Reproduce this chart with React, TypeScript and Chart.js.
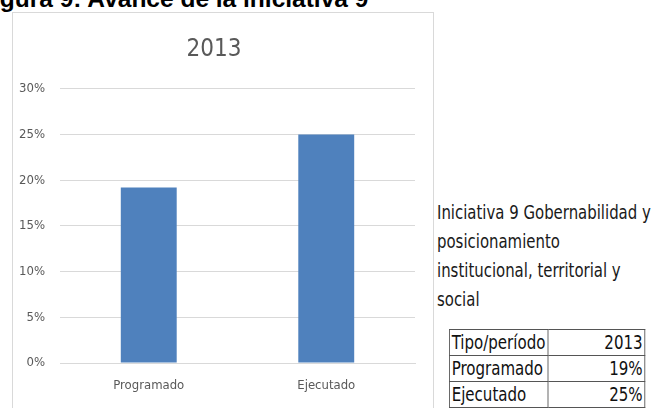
import React, { useEffect, useRef } from "react";
import { Chart, registerables } from "chart.js";

Chart.register(...registerables);

const categories = ["Programado", "Ejecutado"];
const values = [19.2, 25];
const yTicks = [0, 5, 10, 15, 20, 25, 30];
const chartTitle = "2013";
const tableRows = [
  ["Tipo/período", "2013"],
  ["Programado", "19%"],
  ["Ejecutado", "25%"],
];

const NARROW = "'DejaVu Sans Condensed', 'Liberation Sans', sans-serif";

export default function App() {
  const canvasRef = useRef<HTMLCanvasElement | null>(null);

  useEffect(() => {
    const canvas = canvasRef.current;
    if (!canvas) return;
    const chart = new Chart(canvas, {
      type: "bar",
      data: {
        labels: categories,
        datasets: [
          {
            data: values,
            backgroundColor: "#4f81bd",
            borderWidth: 0,
            barPercentage: 0.63,
            categoryPercentage: 0.5,
          },
        ],
      },
      options: {
        animation: false,
        responsive: false,
        maintainAspectRatio: false,
        layout: { padding: { left: 0, right: 17, top: 0, bottom: 0 } },
        plugins: {
          legend: { display: false },
          tooltip: { enabled: false },
          title: {
            display: true,
            text: chartTitle,
            color: "#595959",
            font: { family: NARROW, size: 24, weight: "normal" },
            padding: { top: 22, bottom: 25 },
          },
        },
        scales: {
          x: {
            grid: { display: false, drawTicks: false },
            border: { display: true, color: "#d9d9d9" },
            ticks: {
              color: "#595959",
              font: { family: NARROW, size: 13 },
              padding: 15,
            },
            afterFit: (s: any) => {
              s.height = 45;
            },
          },
          y: {
            min: 0,
            max: 30,
            afterBuildTicks: (s: any) => {
              s.ticks = yTicks.map((v) => ({ value: v }));
            },
            grid: { color: "#d9d9d9", drawTicks: false, lineWidth: 1 },
            border: { display: false },
            ticks: {
              color: "#595959",
              font: { family: NARROW, size: 13 },
              padding: 15,
              callback: (v: any) => `${v}%`,
            },
            afterFit: (s: any) => {
              s.width = 47;
            },
          },
        },
      },
    });
    return () => chart.destroy();
  }, []);

  return (
    <div
      style={{
        position: "absolute",
        left: 0,
        top: 0,
        width: 667,
        height: 408,
        overflow: "hidden",
        background: "#ffffff",
        fontFamily: NARROW,
      }}
    >
      <div
        style={{
          position: "absolute",
          left: -22,
          top: -13,
          fontSize: 24.5,
          lineHeight: "24px",
          fontWeight: "bold",
          color: "#000",
          whiteSpace: "nowrap",
          fontFamily: "'Liberation Sans', sans-serif",
        }}
      >
        Figura 9: Avance de la iniciativa 9
      </div>
      <div
        style={{
          position: "absolute",
          left: 12,
          top: 12,
          width: 422,
          height: 410,
          border: "1px solid #d9d9d9",
          boxSizing: "border-box",
        }}
      >
        <canvas
          ref={canvasRef}
          width={419}
          height={395}
          style={{ display: "block", width: 419, height: 395 }}
        />
      </div>
      <div
        style={{
          position: "absolute",
          left: 437,
          top: 198,
          fontSize: 19,
          lineHeight: "29px",
          color: "#1a1a1a",
          whiteSpace: "nowrap",
          transform: "scaleX(0.873)",
          transformOrigin: "left top",
        }}
      >
        Iniciativa 9 Gobernabilidad y
        <br />
        posicionamiento
        <br />
        institucional, territorial y
        <br />
        social
      </div>
      <table
        style={{
          position: "absolute",
          left: 449,
          top: 329,
          width: 223,
          borderCollapse: "collapse",
          fontSize: 19,
          color: "#111",
          fontFamily: NARROW,
          transform: "scaleX(0.88)",
          transformOrigin: "left top",
        }}
      >
        <tbody>
          {tableRows.map((r, i) => (
            <tr key={i} style={{ height: 26 }}>
              <td
                style={{
                  border: "1px solid #555",
                  padding: "0 2px",
                  width: 107,
                  lineHeight: "25px",
                  whiteSpace: "nowrap",
                }}
              >
                {r[0]}
              </td>
              <td
                style={{
                  border: "1px solid #555",
                  padding: "0 2px",
                  textAlign: "right",
                  lineHeight: "25px",
                }}
              >
                {r[1]}
              </td>
            </tr>
          ))}
        </tbody>
      </table>
    </div>
  );
}
